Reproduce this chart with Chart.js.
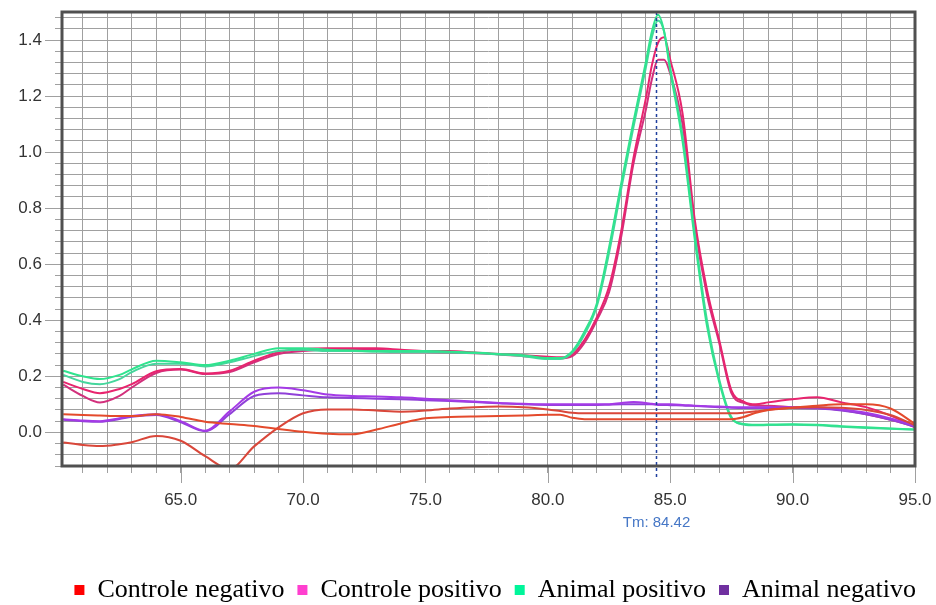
<!DOCTYPE html>
<html>
<head>
<meta charset="utf-8">
<script src="https://cdn.jsdelivr.net/npm/chart.js@4.4.1/dist/chart.umd.min.js"></script>
<style>
  html, body { margin: 0; padding: 0; background: #ffffff; }
  #wrap { width: 936px; height: 605px; }
</style>
</head>
<body>
<div id="wrap"><canvas id="meltChart" width="936" height="605"></canvas></div>
<script>
// Melt curve data (-dF/dT)

const temps = [60.2, 61, 61.7, 62.5, 63, 64, 65, 66, 67, 68, 69, 70, 71, 72, 73, 74, 75, 76, 77, 78, 79, 80,
    80.5, 81, 81.5, 82, 82.5, 83, 83.5, 84, 84.25, 84.5, 84.75, 85, 85.5, 86, 86.5, 87, 87.5, 88, 88.5, 89, 90, 91, 92, 93, 94, 95];

// Controle negativo (two wells)
const negCtrlA = [0.065, 0.062, 0.06, 0.058, 0.058, 0.065, 0.055, 0.038, 0.03, 0.023, 0.012, 0.002, -0.005, -0.007, 0.01, 0.032, 0.05, 0.055, 0.057, 0.058, 0.06, 0.063,
    0.063, 0.052, 0.047, 0.047, 0.047, 0.047, 0.047, 0.047, 0.047, 0.047, 0.047, 0.047, 0.047, 0.047, 0.047, 0.047, 0.047, 0.055, 0.07, 0.08, 0.088, 0.095, 0.1, 0.1, 0.085, 0.03];
const negCtrlB = [-0.036, -0.045, -0.049, -0.042, -0.035, -0.013, -0.03, -0.085, -0.13, -0.05, 0.018, 0.068, 0.082, 0.082, 0.078, 0.074, 0.078, 0.085, 0.09, 0.092, 0.09, 0.082,
    0.076, 0.07, 0.068, 0.068, 0.068, 0.068, 0.068, 0.068, 0.068, 0.068, 0.068, 0.068, 0.068, 0.068, 0.068, 0.068, 0.068, 0.07, 0.075, 0.08, 0.088, 0.09, 0.088, 0.08, 0.062, 0.025];

// Controle positivo (two wells)
const posCtrlA = [0.18, 0.155, 0.14, 0.155, 0.172, 0.218, 0.226, 0.21, 0.22, 0.256, 0.286, 0.297, 0.3, 0.3, 0.3, 0.295, 0.29, 0.29, 0.285, 0.28, 0.275, 0.27,
    0.268, 0.278, 0.33, 0.41, 0.52, 0.72, 0.98, 1.19, 1.31, 1.39, 1.41, 1.33, 1.14, 0.76, 0.51, 0.33, 0.15, 0.11, 0.1, 0.107, 0.118, 0.125, 0.107, 0.09, 0.06, 0.018];
const posCtrlB = [0.17, 0.13, 0.107, 0.13, 0.16, 0.212, 0.224, 0.208, 0.215, 0.25, 0.28, 0.29, 0.295, 0.295, 0.295, 0.29, 0.287, 0.285, 0.282, 0.278, 0.272, 0.266,
    0.264, 0.272, 0.32, 0.4, 0.5, 0.7, 0.96, 1.15, 1.26, 1.33, 1.33, 1.28, 1.1, 0.74, 0.49, 0.32, 0.14, 0.105, 0.095, 0.095, 0.09, 0.088, 0.08, 0.065, 0.045, 0.02];

// Animal positivo (two wells)
const posAnimalA = [0.22, 0.2, 0.19, 0.205, 0.225, 0.256, 0.25, 0.24, 0.256, 0.28, 0.3, 0.3, 0.295, 0.292, 0.29, 0.29, 0.29, 0.288, 0.285, 0.28, 0.275, 0.265,
    0.265, 0.29, 0.36, 0.46, 0.66, 0.89, 1.11, 1.32, 1.43, 1.49, 1.43, 1.29, 1.04, 0.69, 0.38, 0.18, 0.05, 0.03, 0.027, 0.028, 0.029, 0.027, 0.022, 0.018, 0.014, 0.01];
const posAnimalB = [0.205, 0.18, 0.172, 0.19, 0.215, 0.245, 0.245, 0.235, 0.25, 0.272, 0.29, 0.295, 0.29, 0.29, 0.288, 0.287, 0.287, 0.285, 0.283, 0.278, 0.272, 0.262,
    0.262, 0.285, 0.35, 0.45, 0.64, 0.87, 1.09, 1.3, 1.41, 1.47, 1.43, 1.3, 1.06, 0.71, 0.4, 0.19, 0.055, 0.028, 0.025, 0.026, 0.027, 0.025, 0.02, 0.016, 0.013, 0.01];

// Animal negativo (two wells)
const negAnimalA = [0.047, 0.042, 0.04, 0.05, 0.058, 0.065, 0.04, 0.006, 0.075, 0.145, 0.16, 0.15, 0.135, 0.13, 0.128, 0.125, 0.12, 0.115, 0.11, 0.105, 0.102, 0.1,
    0.1, 0.1, 0.1, 0.1, 0.1, 0.105, 0.108, 0.105, 0.102, 0.1, 0.1, 0.1, 0.098, 0.095, 0.093, 0.092, 0.09, 0.09, 0.09, 0.09, 0.09, 0.09, 0.082, 0.07, 0.05, 0.023];
const negAnimalB = [0.045, 0.04, 0.038, 0.048, 0.056, 0.062, 0.036, 0.004, 0.065, 0.13, 0.14, 0.132, 0.125, 0.123, 0.12, 0.118, 0.115, 0.112, 0.108, 0.104, 0.1, 0.098,
    0.098, 0.098, 0.098, 0.098, 0.099, 0.1, 0.1, 0.1, 0.1, 0.098, 0.098, 0.097, 0.096, 0.094, 0.092, 0.09, 0.088, 0.087, 0.087, 0.087, 0.087, 0.085, 0.078, 0.065, 0.045, 0.02];

const groupNames = ['Controle negativo', 'Controle positivo', 'Animal positivo', 'Animal negativo'];
const xTickLabels = [65, 70, 75, 80, 85, 90, 95];
const yTickLabels = [0.0, 0.2, 0.4, 0.6, 0.8, 1.0, 1.2, 1.4];
const tmValue = 84.42;

// Styling
const legendColors = ['#ff0000', '#ff3fcf', '#00f59a', '#7030a0'];
const gridColor = '#a0a0a0';
const frameColor = '#505050';
const tickFont = { family: '"Liberation Sans", Arial, sans-serif', size: 17 };

// Gridlines: every 1.0 degree and every 0.04 units
const xGridValues = [];
for (let t = 61; t <= 95; t++) xGridValues.push(t);
const yGridValues = [];
for (let i = 0; i <= 40; i++) yGridValues.push(Math.round((-0.12 + i * 0.04) * 100) / 100);

function toPoints(series) {
    return temps.map((t, i) => ({ x: t, y: series[i] }));
}

function makeDataset(label, series, color) {
    return {
        label: label,
        data: toPoints(series),
        borderColor: color,
        backgroundColor: color,
        borderWidth: 2,
        pointRadius: 0,
        cubicInterpolationMode: 'monotone',
        fill: false
    };
}

function isLabelValue(list, v) {
    return list.some(t => Math.abs(t - v) < 1e-6);
}

// Frame, longer major ticks and the Tm marker
const meltDecor = {
    id: 'meltDecor',
    afterDatasetsDraw(chart) {
        const { ctx, chartArea: a, scales } = chart;
        const xs = scales.x;
        const ys = scales.y;
        ctx.save();

        // major tick marks
        ctx.strokeStyle = gridColor;
        ctx.lineWidth = 1;
        ctx.beginPath();
        yTickLabels.forEach(v => {
            const py = Math.round(ys.getPixelForValue(v)) + 0.5;
            ctx.moveTo(a.left - 17, py);
            ctx.lineTo(a.left, py);
        });
        xTickLabels.forEach(v => {
            const px = Math.round(xs.getPixelForValue(v)) + 0.5;
            ctx.moveTo(px, a.bottom);
            ctx.lineTo(px, a.bottom + 17);
        });
        ctx.stroke();

        // Tm dashed line
        const tx = Math.round(xs.getPixelForValue(tmValue)) + 0.5;
        ctx.strokeStyle = '#1f3f9e';
        ctx.lineWidth = 1.5;
        ctx.setLineDash([3, 3]);
        ctx.beginPath();
        ctx.moveTo(tx, a.top);
        ctx.lineTo(tx, a.bottom + 12);
        ctx.stroke();
        ctx.setLineDash([]);

        ctx.fillStyle = '#4677c6';
        ctx.font = '15px "Liberation Sans", Arial, sans-serif';
        ctx.textAlign = 'center';
        ctx.textBaseline = 'middle';
        ctx.fillText('Tm: ' + tmValue.toFixed(2), tx, a.bottom + 57);

        // plot frame
        ctx.strokeStyle = frameColor;
        ctx.lineWidth = 3;
        ctx.strokeRect(a.left, a.top, a.right - a.left, a.bottom - a.top);
        ctx.restore();
    }
};

// Initialize chart
function initMeltChart() {
    const ctx = document.getElementById('meltChart').getContext('2d');
    const datasets = [
        makeDataset('Controle negativo', negCtrlA, '#e44a2c'),
        makeDataset('Controle negativo', negCtrlB, '#d9473a'),
        makeDataset('Animal negativo', negAnimalA, '#a43ae6'),
        makeDataset('Animal negativo', negAnimalB, '#9040d8'),
        makeDataset('Animal positivo', posAnimalA, '#2fe48e'),
        makeDataset('Animal positivo', posAnimalB, '#45d69c'),
        makeDataset('Controle positivo', posCtrlA, '#e8246e'),
        makeDataset('Controle positivo', posCtrlB, '#d2307c')
    ];

    new Chart(ctx, {
        type: 'line',
        data: { datasets: datasets },
        options: {
            responsive: false,
            animation: false,
            layout: {
                padding: { top: 12, right: 7, left: 0, bottom: -8 }
            },
            plugins: {
                tooltip: { enabled: false },
                legend: {
                    position: 'bottom',
                    align: 'end',
                    labels: {
                        boxWidth: 10,
                        boxHeight: 10,
                        padding: 13,
                        color: '#000000',
                        font: { family: '"Liberation Serif", "Times New Roman", serif', size: 26 },
                        generateLabels: () => groupNames.map((name, i) => ({
                            text: name,
                            fillStyle: legendColors[i],
                            strokeStyle: legendColors[i],
                            lineWidth: 0,
                            hidden: false,
                            datasetIndex: i
                        }))
                    }
                }
            },
            scales: {
                x: {
                    type: 'linear',
                    min: 60.15,
                    max: 95,
                    afterBuildTicks: (axis) => {
                        axis.ticks = xGridValues.map(v => ({ value: v }));
                    },
                    afterFit: (scale) => {
                        scale.height = 98;
                        scale.paddingLeft = 0;
                        scale.paddingRight = 21;
                    },
                    grid: {
                        color: gridColor,
                        lineWidth: 1,
                        tickLength: 7
                    },
                    border: { display: false },
                    ticks: {
                        autoSkip: false,
                        maxRotation: 0,
                        padding: 17,
                        color: '#333333',
                        font: tickFont,
                        callback: (v) => isLabelValue(xTickLabels, v) ? Number(v).toFixed(1) : ''
                    }
                },
                y: {
                    type: 'linear',
                    min: -0.12,
                    max: 1.5,
                    afterBuildTicks: (axis) => {
                        axis.ticks = yGridValues.map(v => ({ value: v }));
                    },
                    afterFit: (scale) => {
                        scale.width = 62;
                        scale.paddingTop = 0;
                        scale.paddingBottom = 0;
                    },
                    grid: {
                        color: gridColor,
                        lineWidth: 1,
                        tickLength: 7
                    },
                    border: { display: false },
                    ticks: {
                        autoSkip: false,
                        padding: 13,
                        color: '#333333',
                        font: tickFont,
                        callback: (v) => isLabelValue(yTickLabels, v) ? Number(v).toFixed(1) : ''
                    }
                }
            }
        },
        plugins: [meltDecor]
    });
}

initMeltChart();
</script>
</body>
</html>
